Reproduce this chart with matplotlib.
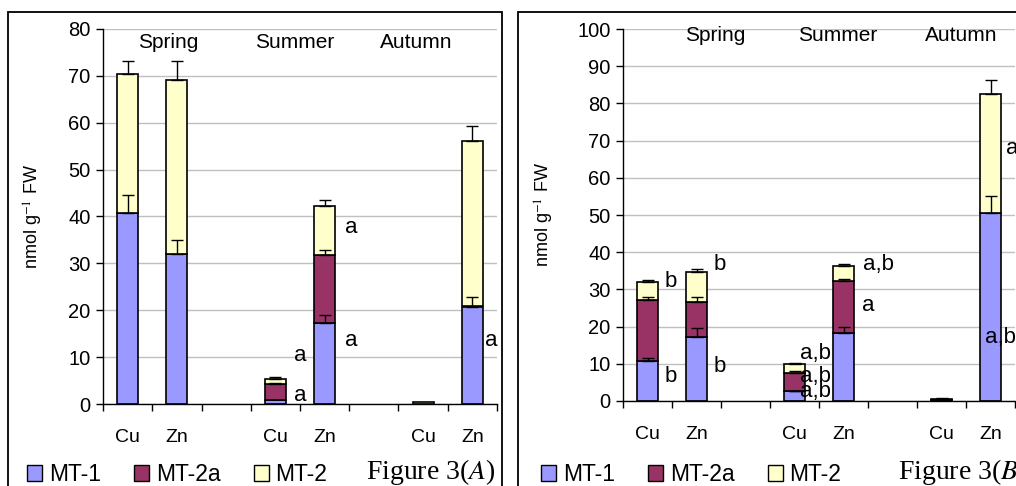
import matplotlib
matplotlib.use("Agg")
import matplotlib.pyplot as plt
from matplotlib.patches import Rectangle, Patch
import numpy as np

plt.rcParams['font.family'] = ['Liberation Sans', 'DejaVu Sans']
plt.rcParams['mathtext.fontset'] = 'stix'

# ---- data ----
categories = ["Cu", "Zn", "", "Cu", "Zn", "", "Cu", "Zn"]
bar_slots = [0, 1, 3, 4, 6, 7]
seasons = ["Spring", "Summer", "Autumn"]
series_names = ["MT-1", "MT-2a", "MT-2"]
colors = ["#9999FF", "#993366", "#FFFFCC"]

# Figure 3(A)
a_mt1 = [40.8, 32.0, 0.8, 17.3, 0.0, 20.8]
a_mt2a = [0.0, 0.0, 3.5, 14.4, 0.0, 0.0]
a_mt2 = [29.5, 37.2, 1.0, 10.6, 0.5, 35.4]
a_err_mt1 = [3.7, 3.0, 0.0, 1.7, 0.0, 2.1]
a_err_mt2a = [0.0, 0.0, 0.2, 1.2, 0.0, 0.0]
a_err_mt2 = [2.9, 4.0, 0.4, 1.2, 0.0, 3.2]
a_letters = [("a", 4.54, 37.7), ("a", 4.54, 13.6), ("a", 3.5, 10.4),
             ("a", 3.5, 1.9), ("a", 7.38, 13.6)]

# Figure 3(B)
b_mt1 = [10.8, 17.3, 2.6, 18.4, 0.2, 50.5]
b_mt2a = [16.3, 9.4, 5.0, 13.9, 0.2, 0.0]
b_mt2 = [5.0, 8.1, 2.3, 4.0, 0.2, 31.9]
b_err_mt1 = [0.8, 2.2, 0.2, 1.6, 0.0, 4.6]
b_err_mt2a = [0.8, 1.3, 0.5, 0.6, 0.0, 0.0]
b_err_mt2 = [0.5, 0.7, 0.2, 0.5, 0.1, 3.9]
b_letters = [("b", 0.48, 32.0), ("b", 0.48, 6.5), ("b", 1.48, 36.6),
             ("b", 1.48, 9.2), ("a,b", 3.42, 12.9), ("a,b", 3.42, 6.5),
             ("a,b", 3.42, 2.5), ("a,b", 4.72, 36.6), ("a", 4.5, 25.8),
             ("a,b", 7.2, 17.2), ("a", 7.45, 68.0)]

W, H = 1016, 486
fig = plt.figure(figsize=(W / 100, H / 100), dpi=100)


def px_rect(x0, y0, x1, y1):
    return [x0 / W, 1 - y1 / H, (x1 - x0) / W, (y1 - y0) / H]


def draw_panel(ax, mt1, mt2a, mt2, e1, e2a, e2, letters, ymax, season_pos, season_y):
    x = np.array(bar_slots, dtype=float)
    mt1 = np.array(mt1); mt2a = np.array(mt2a); mt2 = np.array(mt2)
    bw = 0.43
    ax.set_axisbelow(True)
    ax.grid(axis='y', color='#c0c0c0', lw=1.0, zorder=0)
    bars = []
    bottoms = [np.zeros_like(mt1), mt1, mt1 + mt2a]
    for vals, bot, col, name in zip([mt1, mt2a, mt2], bottoms, colors, series_names):
        b = ax.bar(x, vals, bw, bottom=bot, color=col, edgecolor='black', lw=1.2,
                   label=name, zorder=2)
        bars.append(b)
    tops = [mt1, mt1 + mt2a, mt1 + mt2a + mt2]
    for t, e, vals in zip(tops, [e1, e2a, e2], [mt1, mt2a, mt2]):
        e = np.array(e)
        m = (e > 0) & (vals > 0)
        ax.errorbar(x[m], t[m], yerr=[np.zeros(m.sum()), e[m]], fmt='none',
                    ecolor='black', elinewidth=1.0, capsize=4.5, capthick=1.0, zorder=3)
    for txt, xx, yy in letters:
        ax.text(xx, yy, txt, ha='center', va='center', fontsize=16, zorder=4, clip_on=False)
    for s, sx in zip(seasons, season_pos):
        ax.text(sx, season_y, s, ha='center', va='center', fontsize=15)
    ax.set_xlim(-0.5, 7.5)
    ax.set_ylim(0, ymax)
    ax.set_yticks(np.arange(0, ymax + 1, 10))
    ax.set_xticks(range(len(categories)))
    ax.set_xticklabels(categories, fontsize=14)
    ax.set_xticks(np.arange(-0.5, 8.0, 1.0), minor=True)
    ax.tick_params(axis='x', which='major', length=0, pad=18)
    ax.tick_params(axis='x', which='minor', length=5, width=1.0, direction='out')
    ax.tick_params(axis='y', length=5, width=1.0, direction='out', labelsize=14.5, pad=4)
    for sp in ['top', 'right']:
        ax.spines[sp].set_visible(False)
    ax.spines['left'].set_linewidth(1.0)
    ax.spines['bottom'].set_linewidth(1.0)
    ax.set_ylabel(r"nmol g$^{-1}$ FW", fontsize=13)
    return bars


# frames
fig.add_artist(Rectangle((8 / W, -0.05), (502 - 8) / W, 1.05 - 12 / H,
                         transform=fig.transFigure, fill=False, lw=1.3, ec='black'))
fig.add_artist(Rectangle((518 / W, -0.05), 0.6, 1.05 - 12 / H,
                         transform=fig.transFigure, fill=False, lw=1.3, ec='black'))

axA = fig.add_axes(px_rect(103, 29, 497, 404))
barsA = draw_panel(axA, a_mt1, a_mt2a, a_mt2, a_err_mt1, a_err_mt2a, a_err_mt2,
                   a_letters, 80, [0.82, 3.4, 5.86], 77.2)
axA.yaxis.set_label_coords(-0.148, 0.5)

axB = fig.add_axes(px_rect(623, 29, 1015, 401))
barsB = draw_panel(axB, b_mt1, b_mt2a, b_mt2, b_err_mt1, b_err_mt2a, b_err_mt2,
                   b_letters, 100, [1.38, 3.89, 6.4], 98.3)
axB.yaxis.set_label_coords(-0.17, 0.5)

for bars, lx in [(barsA, 27), (barsB, 541)]:
    handles = [Patch(facecolor=c, edgecolor='black', lw=1.0) for c in colors]
    fig.legend(handles, series_names, loc='center left',
               bbox_to_anchor=(lx / W, 1 - 474.5 / H), bbox_transform=fig.transFigure,
               ncol=3, frameon=False, fontsize=16.5, handlelength=0.65, handleheight=0.65,
               handletextpad=0.3, columnspacing=1.45, borderpad=0, borderaxespad=0)

fig.text(495 / W, 1 - 472 / H, r"Figure 3($\mathit{A}$)", ha='right', va='center',
         fontsize=20, family='Liberation Serif')
fig.text(898 / W, 1 - 472 / H, r"Figure 3($\mathit{B}$)", ha='left', va='center',
         fontsize=20, family='Liberation Serif')

fig.savefig("out.png", dpi=100)
